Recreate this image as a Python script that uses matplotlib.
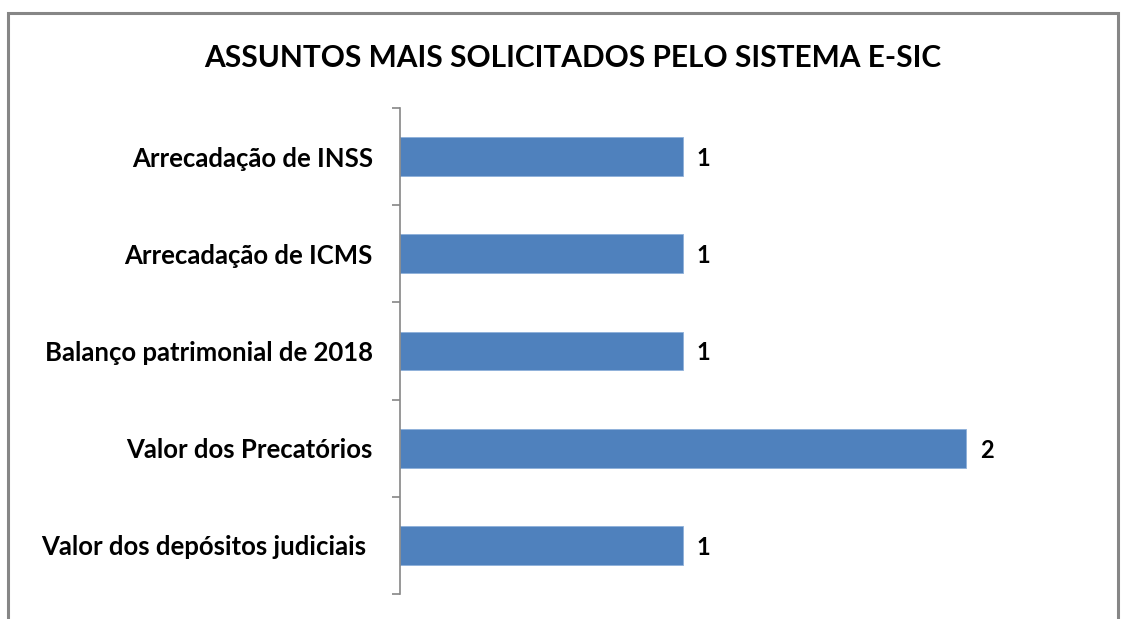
import matplotlib.pyplot as plt
from matplotlib.patches import Rectangle

categorias = [
    "Arrecadação de INSS",
    "Arrecadação de ICMS",
    "Balanço patrimonial de 2018",
    "Valor dos Precatórios",
    "Valor dos depósitos judiciais ",
]
valores = [1, 1, 1, 2, 1]
titulo = "ASSUNTOS MAIS SOLICITADOS PELO SISTEMA E-SIC"

plt.rcParams['font.family'] = ['Lato', 'DejaVu Sans']

fig = plt.figure(figsize=(11.26, 6.19), dpi=100)
W, H = 1126, 619

# moldura cinza do gráfico (Excel)
fig.patches.append(Rectangle((8 / W, -0.1), (1118 - 8) / W, 1.1 - 13 / H,
                             transform=fig.transFigure, fill=False,
                             edgecolor="#868686", linewidth=2.2))

ax = fig.add_axes([400 / W, 1 - 594 / H, (1107 - 400) / W, (594 - 108) / H])

pos = list(range(len(categorias)))
ax.barh(pos, valores, height=0.4, color="#4F81BD", edgecolor="#8EB0DA", linewidth=0.6)
ax.set_xlim(0, 2.5)
ax.set_ylim(len(categorias) - 0.5, -0.5)

for p, v in zip(pos, valores):
    ax.text(v + 0.05, p + 0.02, str(v), va="center", ha="left", fontsize=17, fontweight="bold")

ax.set_yticks(pos)
ax.set_yticklabels(categorias, fontsize=18.5, fontweight="bold")
ax.tick_params(axis="y", which="major", length=0, pad=19.5)
ax.set_yticks([p - 0.5 for p in pos] + [len(pos) - 0.5], minor=True)
ax.tick_params(axis="y", which="minor", length=6, width=1.2, color="#868686", direction="out")
ax.set_xticks([])

for s in ["top", "right", "bottom"]:
    ax.spines[s].set_visible(False)
ax.spines["left"].set_color("#868686")
ax.spines["left"].set_linewidth(1.2)

fig.text(573 / W, 1 - 58 / H, titulo, ha="center", va="center", fontsize=21.5, fontweight="bold")

fig.savefig("out.png", dpi=100)
